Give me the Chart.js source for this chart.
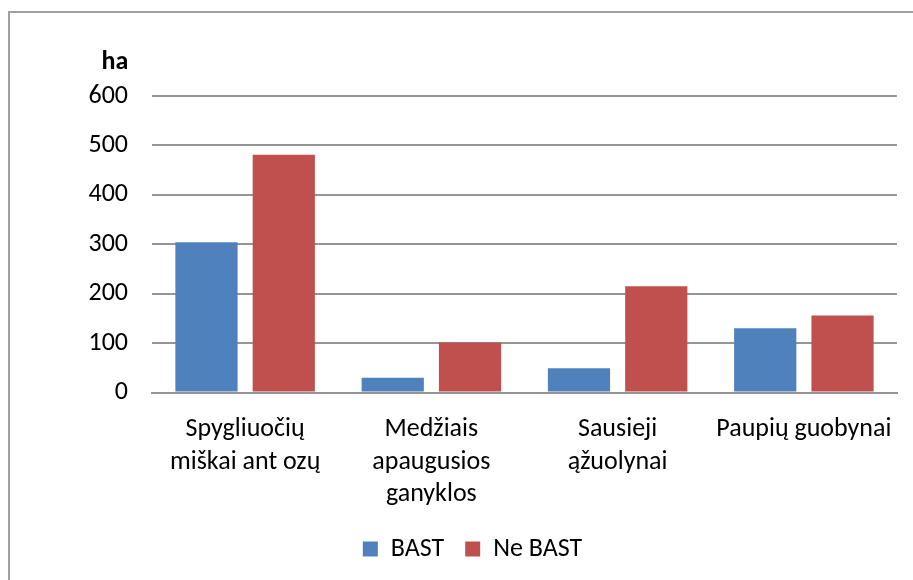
<!DOCTYPE html>
<html>
<head>
<meta charset="utf-8">
<script src="https://cdn.jsdelivr.net/npm/chart.js@4"></script>
<style>
  html, body { margin: 0; padding: 0; background: #fff; }
  #frame {
    position: absolute; left: 8px; top: 11px; width: 1000px; height: 700px;
    border: 2px solid #a0a0a0; box-sizing: border-box;
  }
  #wrap { position: absolute; left: 0; top: 0; width: 913px; height: 580px; }
</style>
</head>
<body>
<div id="frame"></div>
<div id="wrap"><canvas id="chart"></canvas></div>
<script>
/* --------------- Data --------------------- */
const categories = [
  ["Spygliuočių", "miškai ant ozų"],
  ["Medžiais", "apaugusios", "ganyklos"],
  ["Sausieji", "ąžuolynai"],
  "Paupių guobynai",
];
const seriesNames = ["BAST", "Ne BAST"];
const bastValues = [304, 30, 49, 130];
const neBastValues = [481, 101, 215, 156];
const yTicks = [0, 100, 200, 300, 400, 500, 600];
const unitLabel = "ha";

const fontFamily = "Carlito, Lato, 'Open Sans', sans-serif";
const fontSize = 26;

/* --------------- Unit label above the y ticks --------------------- */
const unitPlugin = {
  id: "unitLabel",
  afterDraw(chart) {
    const ctx = chart.ctx;
    const y = chart.scales.y;
    ctx.save();
    ctx.font = "bold " + fontSize + "px " + fontFamily;
    ctx.fillStyle = "#000";
    ctx.textAlign = "center";
    ctx.textBaseline = "middle";
    ctx.fillText(unitLabel, y.right - 37, y.top - 34);
    ctx.restore();
  },
};

new Chart(document.getElementById("chart"), {
  type: "bar",
  plugins: [unitPlugin],
  data: {
    labels: categories,
    datasets: [
      { label: seriesNames[0], data: bastValues, backgroundColor: "#4F81BD" },
      { label: seriesNames[1], data: neBastValues, backgroundColor: "#C0504D" },
    ],
  },
  options: {
    responsive: true,
    maintainAspectRatio: false,
    animation: false,
    datasets: { bar: { categoryPercentage: 0.83, barPercentage: 0.805 } },
    layout: { padding: { top: 96, right: 16, left: 48, bottom: 8 } },
    plugins: {
      tooltip: { enabled: false },
      legend: {
        position: "bottom",
        labels: {
          boxWidth: 15,
          boxHeight: 15,
          padding: 21,
          color: "#000",
          font: { family: fontFamily, size: fontSize },
        },
      },
    },
    scales: {
      x: {
        grid: { display: false },
        border: { display: true, color: "#959595", width: 2 },
        afterFit: (scale) => {
          scale.height -= 9;
        },
        ticks: {
          color: "#000",
          maxRotation: 0,
          padding: 13,
          font: { family: fontFamily, size: fontSize, lineHeight: 1.25 },
        },
      },
      y: {
        min: 0,
        max: 600,
        afterBuildTicks: (scale) => {
          scale.ticks = yTicks.map((v) => ({ value: v }));
        },
        afterFit: (scale) => {
          scale.width = 104;
        },
        grid: { color: "#959595", lineWidth: 2, drawTicks: false },
        border: { display: false },
        ticks: {
          color: "#000",
          padding: 24,
          font: { family: fontFamily, size: fontSize },
        },
      },
    },
  },
});
</script>
</body>
</html>
